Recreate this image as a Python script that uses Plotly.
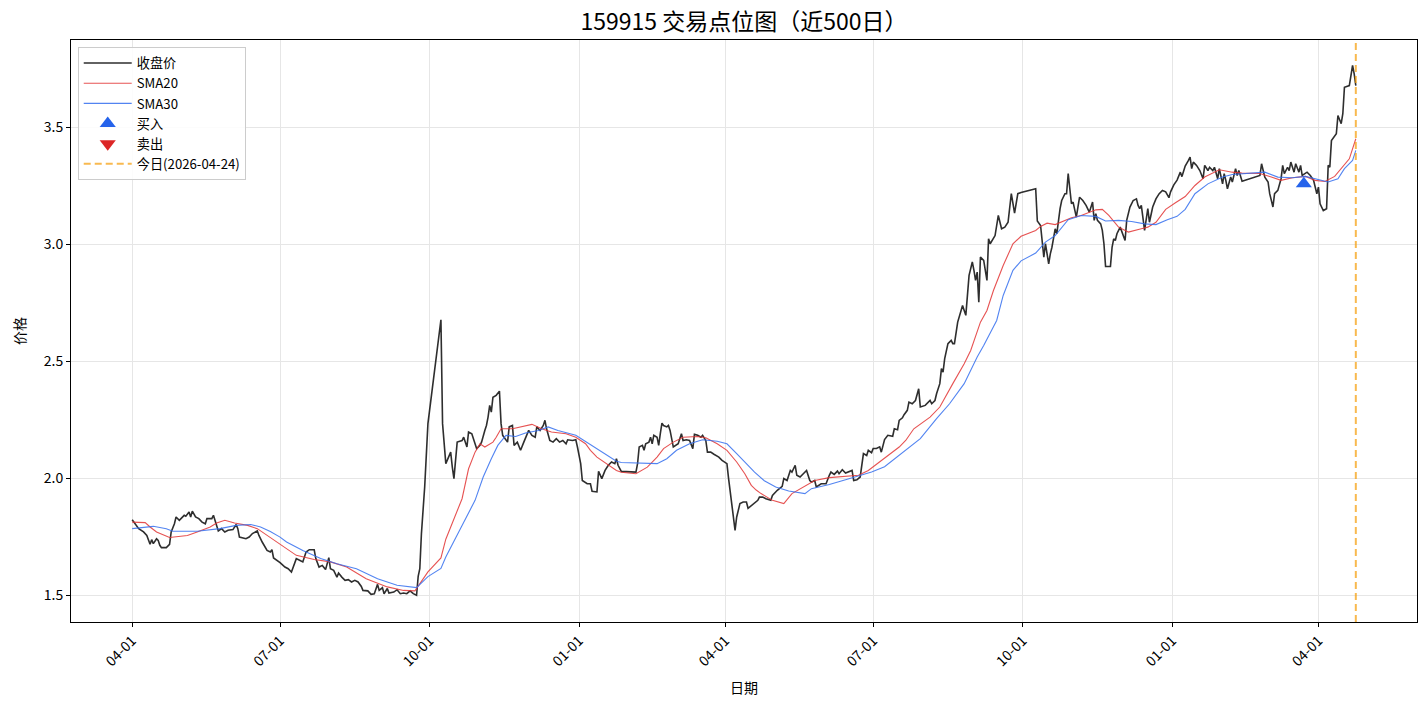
import pandas as pd
import plotly.graph_objects as go

# ---------------- data ----------------
START = "2024-04-01"          # day 0 of the day-index lists below
TODAY = "2026-04-24"
TITLE = "159915 交易点位图（近500日）"

# close price: calendar-day index since START, value
close_day = [
    0, 2, 4, 7, 9, 11, 12, 13, 15, 16, 17, 18, 21, 23, 24, 26, 27, 29, 32, 33,
    35, 36, 37, 39, 41, 43, 45, 46, 49, 50, 52, 53, 55, 57, 59, 62, 64, 65, 66, 70,
    72, 74, 77, 78, 80, 83, 85, 86, 87, 91, 94, 96, 98, 99, 101, 103, 105, 107, 109, 112,
    113, 115, 117, 119, 121, 122, 124, 126, 127, 129, 131, 133, 135, 137, 139, 141, 142, 145, 147, 149,
    151, 152, 154, 155, 157, 158, 161, 163, 165, 167, 169, 171, 173, 175, 176, 177, 178, 180, 182, 190,
    191, 193, 196, 197, 198, 200, 203, 204, 206, 207, 209, 211, 212, 214, 215, 217, 218, 219, 220, 221,
    222, 224, 226, 227, 228, 231, 232, 234, 235, 237, 239, 241, 243, 244, 246, 248, 249, 251, 253, 254,
    255, 257, 259, 261, 263, 265, 267, 268, 271, 273, 274, 276, 277, 280, 282, 283, 286, 287, 289, 291,
    293, 295, 297, 298, 299, 301, 310, 311, 312, 314, 315, 316, 318, 319, 320, 321, 323, 324, 325, 326,
    327, 329, 330, 331, 333, 335, 336, 338, 339, 341, 343, 345, 346, 348, 350, 351, 353, 354, 356, 358,
    361, 363, 366, 367, 371, 372, 374, 376, 378, 379, 382, 385, 386, 388, 390, 393, 394, 397, 400, 401,
    403, 405, 406, 408, 409, 411, 413, 415, 417, 418, 420, 421, 424, 427, 429, 430, 432, 434, 435, 437,
    439, 441, 443, 444, 446, 448, 450, 452, 453, 455, 456, 458, 460, 461, 463, 465, 468, 469, 471, 472,
    474, 475, 477, 478, 480, 482, 484, 485, 488, 491, 492, 494, 495, 497, 498, 499, 500, 502, 504, 505,
    506, 508, 510, 511, 512, 513, 515, 517, 518, 519, 520, 521, 522, 524, 526, 527, 528, 531, 533, 535,
    537, 539, 541, 543, 545, 547, 556, 557, 559, 560, 561, 562, 563, 564, 565, 566, 568, 569, 571, 572,
    574, 575, 576, 577, 578, 579, 581, 582, 583, 585, 587, 589, 590, 591, 592, 593, 594, 596, 597, 598,
    599, 602, 603, 604, 605, 606, 608, 609, 611, 612, 614, 616, 618, 619, 620, 621, 623, 625, 626, 628,
    630, 632, 634, 636, 638, 639, 641, 643, 645, 646, 648, 650, 651, 652, 653, 655, 657, 659, 660, 662,
    663, 665, 666, 668, 669, 671, 672, 673, 674, 676, 677, 679, 680, 681, 683, 694, 695, 696, 697, 699,
    700, 702, 703, 705, 707, 708, 709, 711, 712, 713, 715, 716, 718, 719, 720, 723, 725, 727, 729, 730,
    731, 733, 735, 736, 737, 738, 740, 741, 742, 744, 745, 746, 749, 750, 751, 752, 753,
]
close_val = [
    1.823, 1.806, 1.785, 1.771, 1.756, 1.718, 1.738, 1.721, 1.742, 1.735, 1.714, 1.704, 1.704, 1.718, 1.771, 1.806, 1.835, 1.821, 1.842, 1.838,
    1.856, 1.835, 1.860, 1.835, 1.828, 1.813, 1.806, 1.828, 1.828, 1.842, 1.799, 1.775, 1.785, 1.771, 1.778, 1.781, 1.803, 1.785, 1.749, 1.742,
    1.749, 1.764, 1.775, 1.756, 1.728, 1.692, 1.685, 1.695, 1.660, 1.640, 1.621, 1.614, 1.600, 1.621, 1.657, 1.650, 1.643, 1.685, 1.695, 1.695,
    1.657, 1.621, 1.628, 1.610, 1.661, 1.614, 1.607, 1.578, 1.595, 1.578, 1.564, 1.567, 1.557, 1.564, 1.557, 1.538, 1.521, 1.519, 1.504, 1.507,
    1.547, 1.521, 1.533, 1.507, 1.529, 1.510, 1.514, 1.524, 1.507, 1.510, 1.507, 1.519, 1.507, 1.500, 1.581, 1.614, 1.764, 1.963, 2.234, 2.678,
    2.234, 2.063, 2.112, 2.048, 1.999, 2.155, 2.162, 2.176, 2.134, 2.198, 2.191, 2.148, 2.127, 2.141, 2.155, 2.205, 2.226, 2.262, 2.312, 2.283,
    2.347, 2.355, 2.373, 2.234, 2.184, 2.155, 2.220, 2.226, 2.141, 2.155, 2.120, 2.155, 2.191, 2.205, 2.184, 2.176, 2.220, 2.205, 2.226, 2.248,
    2.212, 2.162, 2.155, 2.170, 2.155, 2.162, 2.148, 2.165, 2.162, 2.165, 2.134, 2.063, 1.991, 1.977, 1.977, 1.945, 1.942, 2.030, 1.999, 2.034,
    2.056, 2.070, 2.063, 2.084, 2.056, 2.030, 2.027, 2.063, 2.134, 2.141, 2.120, 2.148, 2.155, 2.176, 2.148, 2.184, 2.176, 2.141, 2.191, 2.236,
    2.226, 2.220, 2.226, 2.205, 2.134, 2.141, 2.148, 2.191, 2.162, 2.165, 2.162, 2.127, 2.188, 2.184, 2.176, 2.184, 2.162, 2.112, 2.112, 2.103,
    2.091, 2.077, 2.063, 2.000, 1.778, 1.835, 1.892, 1.899, 1.899, 1.872, 1.888, 1.906, 1.920, 1.920, 1.913, 1.906, 1.927, 1.949, 1.966, 1.999,
    1.991, 2.034, 2.027, 2.056, 2.013, 2.006, 2.020, 2.034, 1.991, 1.984, 1.991, 1.963, 1.977, 1.977, 2.013, 2.027, 2.017, 2.031, 2.020, 2.037,
    2.023, 2.027, 2.034, 1.991, 1.994, 2.006, 2.106, 2.098, 2.120, 2.110, 2.128, 2.128, 2.135, 2.112, 2.166, 2.184, 2.180, 2.212, 2.208, 2.248,
    2.259, 2.272, 2.291, 2.326, 2.319, 2.333, 2.383, 2.305, 2.312, 2.333, 2.319, 2.333, 2.362, 2.405, 2.469, 2.454, 2.512, 2.576, 2.590, 2.576,
    2.576, 2.668, 2.718, 2.739, 2.718, 2.697, 2.868, 2.925, 2.889, 2.846, 2.882, 2.753, 2.946, 2.932, 2.846, 3.024, 3.003, 3.038, 3.124, 3.067,
    3.074, 3.095, 3.217, 3.134, 3.217, 3.222, 3.238, 3.100, 3.081, 3.017, 2.946, 3.003, 2.960, 2.917, 2.960, 2.988, 3.067, 3.046, 3.153, 3.188,
    3.217, 3.217, 3.303, 3.231, 3.174, 3.181, 3.117, 3.160, 3.202, 3.188, 3.167, 3.138, 3.160, 3.181, 3.103, 3.131, 3.103, 3.088, 3.060, 3.003,
    2.906, 2.906, 2.988, 3.024, 3.017, 3.046, 3.074, 3.053, 3.017, 3.103, 3.160, 3.188, 3.195, 3.167, 3.153, 3.167, 3.060, 3.153, 3.095, 3.160,
    3.195, 3.217, 3.231, 3.225, 3.200, 3.225, 3.255, 3.275, 3.309, 3.290, 3.335, 3.359, 3.373, 3.324, 3.352, 3.338, 3.316, 3.281, 3.338, 3.316,
    3.330, 3.316, 3.330, 3.281, 3.324, 3.259, 3.303, 3.274, 3.238, 3.288, 3.267, 3.324, 3.295, 3.316, 3.270, 3.295, 3.345, 3.316, 3.288, 3.267,
    3.217, 3.160, 3.217, 3.231, 3.281, 3.338, 3.303, 3.330, 3.316, 3.352, 3.309, 3.345, 3.309, 3.338, 3.295, 3.309, 3.295, 3.274, 3.217, 3.245,
    3.174, 3.145, 3.153, 3.338, 3.330, 3.444, 3.466, 3.473, 3.551, 3.516, 3.559, 3.672, 3.679, 3.715, 3.765, 3.729, 3.679,
]

sma20_day = [
    0, 8, 11, 15, 23, 34, 40, 48, 52, 57, 63, 71, 77, 83, 89, 93, 97, 101, 112, 122,
    132, 144, 157, 167, 174, 177, 182, 190, 193, 203, 207, 211, 214, 217, 222, 224, 227, 234, 242, 246,
    252, 258, 267, 273, 279, 282, 286, 292, 298, 301, 310, 317, 323, 327, 333, 339, 348, 353, 360, 366,
    372, 377, 381, 384, 387, 394, 401, 406, 413, 420, 429, 439, 447, 453, 461, 467, 472, 476, 481, 491,
    497, 505, 512, 516, 522, 526, 530, 536, 542, 547, 556, 559, 563, 568, 574, 578, 584, 593, 597, 601,
    607, 613, 621, 625, 630, 636, 642, 648, 654, 660, 669, 677, 683, 694, 701, 707, 714, 722, 728, 734,
    740, 745, 749, 753,
]
sma20_val = [
    1.813, 1.811, 1.792, 1.771, 1.747, 1.756, 1.771, 1.792, 1.809, 1.821, 1.809, 1.799, 1.785, 1.756, 1.728, 1.706, 1.690, 1.671, 1.653, 1.643,
    1.621, 1.571, 1.536, 1.521, 1.519, 1.550, 1.600, 1.660, 1.740, 1.913, 2.041, 2.112, 2.148, 2.134, 2.155, 2.176, 2.212, 2.212, 2.226, 2.231,
    2.212, 2.198, 2.191, 2.176, 2.148, 2.120, 2.091, 2.063, 2.034, 2.026, 2.020, 2.048, 2.091, 2.127, 2.155, 2.176, 2.179, 2.174, 2.148, 2.120,
    2.070, 2.020, 1.970, 1.950, 1.935, 1.906, 1.892, 1.935, 1.963, 1.991, 2.003, 2.009, 2.013, 2.034, 2.077, 2.106, 2.134, 2.162, 2.212, 2.262,
    2.305, 2.405, 2.490, 2.547, 2.668, 2.718, 2.803, 2.910, 3.003, 3.035, 3.060, 3.077, 3.091, 3.085, 3.103, 3.114, 3.124, 3.148, 3.150, 3.124,
    3.074, 3.053, 3.067, 3.074, 3.095, 3.150, 3.178, 3.205, 3.252, 3.288, 3.319, 3.309, 3.305, 3.303, 3.288, 3.274, 3.285, 3.291, 3.274, 3.269,
    3.291, 3.330, 3.366, 3.452,
]

sma30_day = [
    0, 13, 21, 25, 40, 54, 64, 73, 79, 85, 91, 95, 105, 116, 126, 138, 151, 163, 175, 182,
    190, 193, 211, 216, 221, 225, 230, 236, 242, 250, 256, 262, 273, 281, 290, 298, 301, 310, 323, 329,
    335, 343, 351, 360, 366, 372, 377, 383, 389, 396, 404, 414, 418, 429, 439, 447, 455, 463, 473, 485,
    495, 503, 512, 520, 524, 532, 536, 542, 547, 556, 562, 568, 576, 584, 593, 599, 607, 615, 623, 630,
    637, 643, 648, 654, 662, 671, 677, 683, 694, 697, 705, 714, 722, 730, 736, 742, 746, 751, 753,
]
sma30_val = [
    1.785, 1.795, 1.785, 1.774, 1.774, 1.785, 1.799, 1.803, 1.792, 1.773, 1.749, 1.728, 1.692, 1.657, 1.635, 1.614, 1.571, 1.543, 1.533, 1.580,
    1.615, 1.664, 1.906, 2.006, 2.084, 2.141, 2.184, 2.179, 2.194, 2.205, 2.220, 2.205, 2.184, 2.148, 2.106, 2.073, 2.068, 2.065, 2.063, 2.084,
    2.120, 2.148, 2.165, 2.159, 2.148, 2.106, 2.070, 2.027, 1.990, 1.963, 1.946, 1.935, 1.956, 1.974, 1.994, 2.009, 2.027, 2.050, 2.104, 2.170,
    2.255, 2.319, 2.405, 2.519, 2.568, 2.675, 2.782, 2.889, 2.930, 2.963, 3.010, 3.038, 3.106, 3.124, 3.120, 3.100, 3.103, 3.098, 3.088, 3.085,
    3.106, 3.120, 3.150, 3.217, 3.259, 3.288, 3.299, 3.302, 3.305, 3.309, 3.288, 3.285, 3.291, 3.278, 3.267, 3.281, 3.324, 3.359, 3.402,
]

buy_day = [721]
buy_price = [3.26]
sell_day = []
sell_price = []

tick_dates = ["2024-04-01", "2024-07-01", "2024-10-01", "2025-01-01", "2025-04-01",
              "2025-07-01", "2025-10-01", "2026-01-01", "2026-04-01"]
tick_labels = ["04-01", "07-01", "10-01", "01-01", "04-01", "07-01", "10-01", "01-01", "04-01"]

assert len(close_day) == len(close_val)
assert len(sma20_day) == len(sma20_val)
assert len(sma30_day) == len(sma30_val)

# ---------------- figure ----------------
start = pd.Timestamp(START)


def to_dates(days):
    return [start + pd.Timedelta(days=int(d)) for d in days]


FONT = "Noto Sans CJK SC, Noto Sans, sans-serif"

fig = go.Figure()
fig.add_trace(go.Scatter(x=to_dates(close_day), y=close_val, mode="lines", name="收盘价",
                         line=dict(color="rgba(17,17,17,0.88)", width=1.6)))
fig.add_trace(go.Scatter(x=to_dates(sma20_day), y=sma20_val, mode="lines", name="SMA20",
                         line=dict(color="rgba(226,52,52,0.85)", width=1.1)))
fig.add_trace(go.Scatter(x=to_dates(sma30_day), y=sma30_val, mode="lines", name="SMA30",
                         line=dict(color="rgba(52,110,238,0.85)", width=1.1)))
fig.add_trace(go.Scatter(x=to_dates(buy_day) if buy_day else [None], y=buy_price if buy_price else [None],
                         mode="markers", name="买入",
                         marker=dict(symbol="triangle-up", size=14, color="#2563eb")))
fig.add_trace(go.Scatter(x=to_dates(sell_day) if sell_day else [None], y=sell_price if sell_price else [None],
                         mode="markers", name="卖出",
                         marker=dict(symbol="triangle-down", size=14, color="#dc2626")))

today = pd.Timestamp(TODAY)
fig.add_shape(type="line", xref="x", yref="paper", x0=today, x1=today, y0=0, y1=1,
              line=dict(color="rgba(245,158,11,0.72)", width=2, dash="7px,4px"),
              showlegend=True, name=f"今日({TODAY})")

first = min(to_dates(close_day))
span = today - first
x_range = [first - span * 0.05, today + span * 0.05]

fig.update_layout(
    width=1427, height=706,
    margin=dict(l=71, r=10, t=40, b=84),
    paper_bgcolor="white", plot_bgcolor="white",
    font=dict(family=FONT, size=13, color="black"),
    title=dict(text=TITLE, x=0.5, xref="paper", xanchor="center",
               y=1 - 22 / 706, yref="container", yanchor="middle",
               font=dict(size=23, color="black", family=FONT)),
    legend=dict(x=0.005, y=0.988, xanchor="left", yanchor="top",
                bgcolor="rgba(255,255,255,0.85)", bordercolor="#cccccc", borderwidth=1,
                font=dict(size=13.2, family=FONT), tracegroupgap=0, itemwidth=48),
    showlegend=True,
)
fig.update_xaxes(
    range=x_range, tickvals=[pd.Timestamp(t) for t in tick_dates], ticktext=tick_labels,
    tickangle=-45, ticks="outside", ticklen=4, tickcolor="black",
    showline=True, linecolor="black", linewidth=1, mirror=True,
    showgrid=True, gridcolor="#e6e6e6", gridwidth=1, zeroline=False,
    tickfont=dict(size=14, family=FONT),
    title=dict(text="日期", font=dict(size=14, family=FONT), standoff=14),
)
fig.update_yaxes(
    range=[1.386, 3.874], tickvals=[1.5, 2.0, 2.5, 3.0, 3.5], tickformat=".1f",
    ticks="outside", ticklen=4, tickcolor="black",
    showline=True, linecolor="black", linewidth=1, mirror=True,
    showgrid=True, gridcolor="#e6e6e6", gridwidth=1, zeroline=False,
    tickfont=dict(size=14, family=FONT),
    title=dict(text="价格", font=dict(size=14, family=FONT), standoff=14),
)

fig.write_html("out.html")
